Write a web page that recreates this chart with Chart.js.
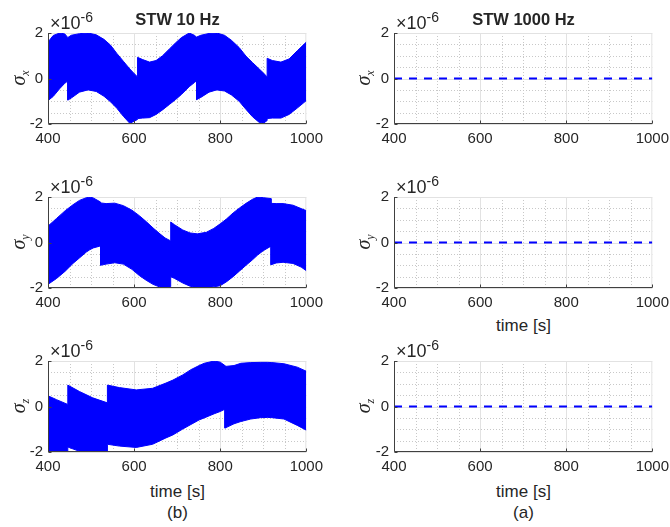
<!DOCTYPE html>
<html>
<head>
<meta charset="utf-8">
<script src="https://cdn.jsdelivr.net/npm/chart.js@4.4.1/dist/chart.umd.min.js"></script>
<style>
  body { margin: 0; background: #fff; }
  #fig { position: relative; width: 670px; height: 527px; overflow: hidden;
         font-family: "Liberation Sans", Arial, sans-serif; color: #262626; }
  #fig canvas { position: absolute; }
  .lbl { position: absolute; white-space: nowrap; line-height: 1; transform: translate(-50%, -50%); }
  .title { font-weight: bold; font-size: 16.5px; }
  .xlab { font-size: 17px; }
  .exp { position: absolute; white-space: nowrap; line-height: 1; font-size: 18px; }
  .exp sup { font-size: 14px; vertical-align: 0; position: relative; top: -7px; }
  .sig { position: absolute; white-space: nowrap; line-height: 1; font-family: "Liberation Serif", serif;
         font-style: italic; font-size: 20px; transform: translate(-50%, -50%) rotate(-90deg); }
  .sig sub { font-size: 12px; vertical-align: 0; position: relative; top: 4px; }
</style>
</head>
<body>
<div id="fig">
  <canvas id="c10x"></canvas><canvas id="c1000x"></canvas>
  <canvas id="c10y"></canvas><canvas id="c1000y"></canvas>
  <canvas id="c10z"></canvas><canvas id="c1000z"></canvas>

  <div class="lbl title" style="left:177.5px;top:18.5px">STW 10 Hz</div>
  <div class="lbl title" style="left:523.5px;top:18.5px">STW 1000 Hz</div>

  <div class="exp" style="left:50px;top:13.5px">×10<sup>-6</sup></div>
  <div class="exp" style="left:396px;top:13.5px">×10<sup>-6</sup></div>
  <div class="exp" style="left:50px;top:177.5px">×10<sup>-6</sup></div>
  <div class="exp" style="left:396px;top:177.5px">×10<sup>-6</sup></div>
  <div class="exp" style="left:50px;top:341.5px">×10<sup>-6</sup></div>
  <div class="exp" style="left:396px;top:341.5px">×10<sup>-6</sup></div>

  <div class="sig" style="left:18px;top:77.5px">σ<sub>x</sub></div>
  <div class="sig" style="left:363px;top:77.5px">σ<sub>x</sub></div>
  <div class="sig" style="left:18px;top:241.5px">σ<sub>y</sub></div>
  <div class="sig" style="left:363px;top:241.5px">σ<sub>y</sub></div>
  <div class="sig" style="left:18px;top:405.5px">σ<sub>z</sub></div>
  <div class="sig" style="left:363px;top:405.5px">σ<sub>z</sub></div>

  <div class="lbl xlab" style="left:523.5px;top:325px">time [s]</div>
  <div class="lbl xlab" style="left:177.5px;top:491px">time [s]</div>
  <div class="lbl xlab" style="left:523.5px;top:491px">time [s]</div>
  <div class="lbl xlab" style="left:177.5px;top:512px">(b)</div>
  <div class="lbl xlab" style="left:523.5px;top:512px">(a)</div>
</div>

<script>
// Werte in Einheiten von 1e-6 (Hüllkurven des Bandes)
const timeX10  = [400, 412, 427, 439, 446, 446, 454, 473, 493, 512, 530, 545, 560, 575, 590, 600, 608, 608, 620, 636, 651, 666, 682, 696, 710, 728, 740, 745, 745, 755, 774, 792, 810, 826, 844, 860, 875, 890, 900, 909, 909, 921, 941, 960, 979, 1000];
const upperX10 = [1.60, 1.89, 2.00, 1.96, 1.80, 1.80, 1.90, 1.97, 2.00, 1.92, 1.72, 1.47, 1.10, 0.76, 0.42, 0.22, 0.07, 0.93, 0.83, 0.72, 0.79, 1.00, 1.30, 1.56, 1.80, 2.00, 1.90, 1.82, 1.82, 1.90, 1.98, 2.00, 1.90, 1.68, 1.36, 0.98, 0.70, 0.43, 0.25, 0.07, 0.89, 0.79, 0.72, 0.86, 1.22, 1.60];
const lowerX10 = [-0.97, -0.79, -0.45, -0.21, -0.11, -0.95, -0.86, -0.60, -0.50, -0.57, -0.78, -1.02, -1.31, -1.66, -1.97, -1.88, -1.80, -1.76, -1.74, -1.72, -1.58, -1.38, -1.14, -0.93, -0.70, -0.36, -0.18, -0.10, -0.93, -0.83, -0.60, -0.50, -0.55, -0.72, -1.00, -1.36, -1.68, -1.92, -1.97, -1.85, -1.76, -1.74, -1.74, -1.58, -1.30, -0.97];

const timeY10  = [400, 420, 440, 458, 473, 489, 497, 505, 522, 522, 535, 555, 575, 595, 612, 628, 644, 660, 672, 685, 685, 694, 713, 730, 747, 768, 785, 800, 815, 830, 845, 860, 875, 887, 900, 918, 918, 930, 946, 969, 988, 1000];
const upperY10 = [0.72, 1.06, 1.40, 1.66, 1.85, 1.97, 2.00, 1.96, 1.78, 1.74, 1.71, 1.73, 1.62, 1.42, 1.18, 0.92, 0.64, 0.38, 0.20, 0.07, 0.90, 0.78, 0.55, 0.42, 0.38, 0.45, 0.62, 0.82, 1.04, 1.30, 1.52, 1.72, 1.90, 2.00, 1.97, 1.93, 1.72, 1.71, 1.71, 1.64, 1.49, 1.40];
const lowerY10 = [-1.84, -1.58, -1.26, -0.92, -0.68, -0.42, -0.32, -0.24, -0.15, -1.00, -0.95, -0.89, -0.95, -1.18, -1.45, -1.66, -1.84, -1.96, -2.00, -1.94, -1.50, -1.58, -1.78, -1.92, -2.00, -1.99, -1.95, -1.90, -1.72, -1.50, -1.25, -1.00, -0.76, -0.55, -0.36, -0.16, -0.98, -0.90, -0.87, -0.92, -1.08, -1.24];

const timeZ10  = [400, 420, 446, 446, 473, 504, 538, 538, 566, 605, 643, 674, 690, 713, 732, 751, 763, 786, 800, 811, 811, 832, 848, 871, 894, 910, 920, 948, 979, 1000];
const upperZ10 = [0.47, 0.30, 0.09, 0.94, 0.66, 0.38, 0.16, 0.94, 0.83, 0.73, 0.80, 1.03, 1.16, 1.39, 1.62, 1.80, 1.90, 2.00, 1.95, 1.80, 1.76, 1.80, 1.90, 1.93, 1.94, 1.94, 1.93, 1.88, 1.73, 1.55];
const lowerZ10 = [-1.97, -1.98, -1.98, -1.78, -1.97, -2.00, -1.98, -1.66, -1.74, -1.80, -1.66, -1.38, -1.25, -0.99, -0.79, -0.59, -0.50, -0.32, -0.22, -0.12, -0.95, -0.76, -0.66, -0.55, -0.49, -0.48, -0.49, -0.55, -0.83, -1.04];

// STW 1000 Hz: praktisch null
const time1000   = [400, 1000];
const sigmaX1000 = [0, 0];
const sigmaY1000 = [0, 0];
const sigmaZ1000 = [0, 0];

const xTicks = [400, 600, 800, 1000];
const yTicks = [-2, 0, 2];
const xMinor = [450, 500, 550, 650, 700, 750, 850, 900, 950];
const yMinor = [-1.5, -1, -0.5, 0.5, 1, 1.5];

const BLUE = '#0000ff';
const TEXT = '#262626';
const FONT = '"Liberation Sans", Arial, sans-serif';

// Plotbereich in Pixeln
const PLOT_W = 259, PLOT_H = 93;
const PAD_L = 48, PAD_T = 12, PAD_R = 22, PAD_B = 26;

function toPoints(xs, ys) {
  return xs.map((x, i) => ({ x: x, y: ys[i] }));
}

// Gitter wie in MATLAB: Haupt-Gitter durchgezogen, Neben-Gitter gepunktet
const gridPlugin = {
  id: 'matlabGrid',
  beforeDatasetsDraw(chart) {
    const { ctx, chartArea: a, scales: { x, y } } = chart;
    const px = v => Math.round(x.getPixelForValue(v)) + 0.5;
    const py = v => Math.round(y.getPixelForValue(v)) + 0.5;
    ctx.save();
    ctx.lineWidth = 1;
    ctx.strokeStyle = '#c8c8c8';
    ctx.setLineDash([1, 2]);
    ctx.beginPath();
    xMinor.forEach(v => { ctx.moveTo(px(v), a.top); ctx.lineTo(px(v), a.bottom); });
    yMinor.forEach(v => { ctx.moveTo(a.left, py(v)); ctx.lineTo(a.right, py(v)); });
    ctx.stroke();
    ctx.setLineDash([]);
    ctx.strokeStyle = '#e2e2e2';
    ctx.beginPath();
    xTicks.forEach(v => { const p = Math.min(px(v), a.right - 0.5); ctx.moveTo(p, a.top); ctx.lineTo(p, a.bottom); });
    yTicks.forEach(v => { const p = Math.max(py(v), a.top + 0.5); ctx.moveTo(a.left, p); ctx.lineTo(a.right, p); });
    ctx.stroke();
    ctx.restore();
  },
  afterDatasetsDraw(chart) {
    const { ctx, chartArea: a, scales: { x, y } } = chart;
    ctx.save();
    ctx.strokeStyle = '#404040';
    ctx.lineWidth = 1;
    ctx.beginPath();
    const l = Math.round(a.left) + 0.5, b = Math.round(a.bottom) - 0.5;
    ctx.moveTo(l, a.top); ctx.lineTo(l, b); ctx.lineTo(a.right, b);
    // kleine Tickmarken nach innen
    xTicks.forEach(v => { const p = Math.round(x.getPixelForValue(v)) + 0.5; ctx.moveTo(p, b); ctx.lineTo(p, b - 3); });
    yTicks.forEach(v => { const p = Math.round(y.getPixelForValue(v)) + 0.5; ctx.moveTo(l, p); ctx.lineTo(l + 3, p); });
    ctx.stroke();
    ctx.restore();
  }
};

function bandSets(xs, up, lo) {
  return [
    { data: toPoints(xs, up), borderColor: BLUE, backgroundColor: BLUE, borderWidth: 1, fill: '+1' },
    { data: toPoints(xs, lo), borderColor: BLUE, backgroundColor: BLUE, borderWidth: 1, fill: false }
  ];
}

function zeroSet(xs, ys) {
  return [{ data: toPoints(xs, ys), borderColor: BLUE, borderWidth: 2.2, borderDash: [8, 7], fill: false }];
}

function makePanel(id, left, top, datasets) {
  const cv = document.getElementById(id);
  const w = PLOT_W + PAD_L + PAD_R, h = PLOT_H + PAD_T + PAD_B;
  cv.width = w; cv.height = h;
  cv.style.width = w + 'px'; cv.style.height = h + 'px';
  cv.style.left = (left - PAD_L) + 'px';
  cv.style.top = (top - PAD_T) + 'px';
  const tickFont = { family: FONT, size: 15 };
  return new Chart(cv, {
    type: 'line',
    data: { datasets: datasets },
    options: {
      responsive: false,
      animation: false,
      devicePixelRatio: 1,
      layout: { padding: { left: 0, top: PAD_T, right: PAD_R, bottom: 0 } },
      elements: { point: { radius: 0 }, line: { tension: 0 } },
      plugins: { legend: { display: false }, tooltip: { enabled: false } },
      scales: {
        x: {
          type: 'linear', min: 400, max: 1000,
          afterBuildTicks: s => { s.ticks = xTicks.map(v => ({ value: v })); },
          afterFit: s => { s.height = PAD_B; },
          grid: { display: false, drawTicks: false },
          border: { display: false },
          ticks: { padding: 6, color: TEXT, font: tickFont, maxRotation: 0, autoSkip: false,
                   callback: v => String(v) }
        },
        y: {
          type: 'linear', min: -2, max: 2,
          afterBuildTicks: s => { s.ticks = yTicks.map(v => ({ value: v })); },
          afterFit: s => { s.width = PAD_L; },
          grid: { display: false, drawTicks: false },
          border: { display: false },
          ticks: { padding: 5, color: TEXT, font: tickFont, autoSkip: false,
                   callback: v => String(v) }
        }
      }
    },
    plugins: [gridPlugin]
  });
}

makePanel('c10x', 48, 31, bandSets(timeX10, upperX10, lowerX10));
makePanel('c10y', 48, 195, bandSets(timeY10, upperY10, lowerY10));
makePanel('c10z', 48, 359, bandSets(timeZ10, upperZ10, lowerZ10));
makePanel('c1000x', 394, 31, zeroSet(time1000, sigmaX1000));
makePanel('c1000y', 394, 195, zeroSet(time1000, sigmaY1000));
makePanel('c1000z', 394, 359, zeroSet(time1000, sigmaZ1000));
</script>
</body>
</html>
